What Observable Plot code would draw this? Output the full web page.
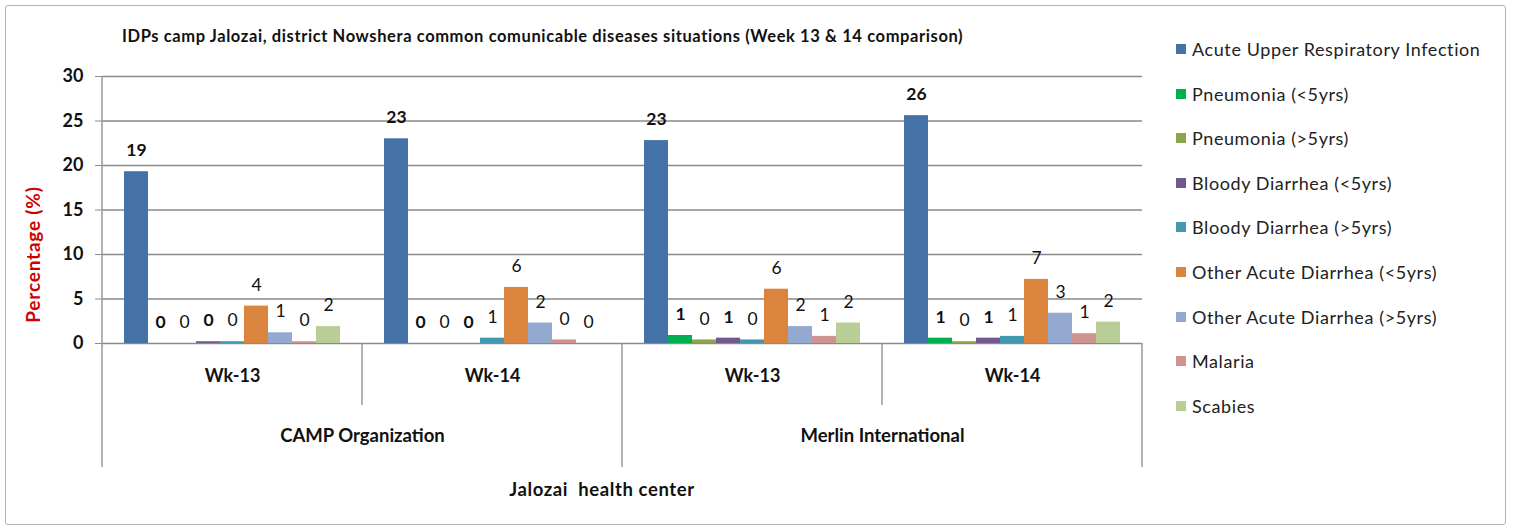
<!DOCTYPE html>
<html>
<head>
<meta charset="utf-8">
<script src="https://cdn.jsdelivr.net/npm/d3@7"></script>
<script src="https://cdn.jsdelivr.net/npm/@observablehq/plot@0.6"></script>
<style>
  html, body { margin: 0; padding: 0; background: #fff; }
  #wrap { position: relative; width: 1513px; height: 531px; overflow: hidden; font-family: Lato, "Open Sans", sans-serif; }
  #border { position: absolute; left: 5px; top: 5px; width: 1501px; height: 520px; border: 1.5px solid #b4b4b4; border-radius: 3px; box-sizing: border-box; }
  #chart { position: absolute; left: 0; top: 0; }
  #title { position: absolute; left: 122px; top: 26px; font-weight: bold; font-size: 16.5px; letter-spacing: 0.6px; color: #111; white-space: nowrap; }
  .item { position: absolute; left: 1176px; height: 22px; display: flex; align-items: center; white-space: nowrap; font-size: 18px; letter-spacing: 0.6px; color: #222; }
  .sw { width: 10px; height: 10px; margin-right: 6px; flex: none; }
</style>
</head>
<body>
<div id="wrap">
  <div id="border"></div>
  <div id="chart"></div>
  <div id="title"></div>
  <div id="legend"></div>
</div>
<script>
// ---- data ----
const chartTitle = "IDPs camp Jalozai, district Nowshera common comunicable diseases situations (Week 13 & 14 comparison)";
const yAxisTitle = "Percentage (%)";
const xAxisTitle = "Jalozai  health center";
const groups = ["CAMP|Wk-13", "CAMP|Wk-14", "Merlin|Wk-13", "Merlin|Wk-14"];
const weeks = ["Wk-13", "Wk-14", "Wk-13", "Wk-14"];
const organizations = ["CAMP Organization", "Merlin International"];
const orgGroups = [["CAMP|Wk-13", "CAMP|Wk-14"], ["Merlin|Wk-13", "Merlin|Wk-14"]];
const diseases = [
  "Acute Upper Respiratory  Infection",
  "Pneumonia (<5yrs)",
  "Pneumonia (>5yrs)",
  "Bloody Diarrhea (<5yrs)",
  "Bloody Diarrhea (>5yrs)",
  "Other Acute Diarrhea (<5yrs)",
  "Other Acute Diarrhea (>5yrs)",
  "Malaria",
  "Scabies"
];
const colors = ["#4572A7", "#00B050", "#89A54E", "#71588F", "#4198AF", "#DB843D", "#93A9CF", "#D19392", "#B9CD96"];
const boldLabelSeries = ["Acute Upper Respiratory  Infection", "Pneumonia (<5yrs)", "Bloody Diarrhea (<5yrs)"];
const campWk13   = [19.3, 0.0, 0.0, 0.2, 0.2, 4.2, 1.2, 0.2, 1.9];
const campWk14   = [23.0, 0.0, 0.0, 0.0, 0.6, 6.3, 2.3, 0.4, 0.0];
const merlinWk13 = [22.8, 0.9, 0.4, 0.6, 0.4, 6.1, 1.9, 0.8, 2.3];
const merlinWk14 = [25.6, 0.6, 0.2, 0.6, 0.8, 7.2, 3.4, 1.1, 2.4];
const yTicks = [0, 5, 10, 15, 20, 25, 30];

// ---- table ----
const seriesByGroup = [campWk13, campWk14, merlinWk13, merlinWk14];
const rows = [];
groups.forEach((g, gi) => seriesByGroup[gi].forEach((v, di) => rows.push({
  group: g, disease: diseases[di], value: v, label: String(Math.round(v)),
  bold: boldLabelSeries.includes(diseases[di])
})));
const groupRows = groups.map((g, i) => ({group: g, week: weeks[i]}));
const orgRows = organizations.map((o, i) => ({group: orgGroups[i][0], org: o}));

const font = "Lato, 'Open Sans', sans-serif";
const plot = Plot.plot({
  width: 1513, height: 531,
  marginLeft: 100, marginRight: 370, marginTop: 76, marginBottom: 188,
  style: {fontFamily: font, background: "transparent", overflow: "visible", color: "#111"},
  fx: {domain: groups, padding: 0, axis: null},
  x: {domain: diseases, paddingInner: 0, paddingOuter: 0.74, axis: null},
  y: {domain: [0, 30]},
  color: {domain: diseases, range: colors},
  marks: [
    Plot.ruleY(yTicks, {stroke: "#8a8a8a", strokeWidth: 1.6}),
    Plot.barY(rows, {fx: "group", x: "disease", y: "value", fill: "disease"}),
    Plot.text(rows.filter(d => d.bold), {fx: "group", x: "disease", y: "value", text: "label", dy: -21, fontSize: 17.5, fontWeight: "bold", fill: "#111"}),
    Plot.text(rows.filter(d => !d.bold), {fx: "group", x: "disease", y: "value", text: "label", dy: -21, fontSize: 17.5, fill: "#111"}),
    Plot.axisY({ticks: yTicks, tickSize: 7, tickPadding: 12, fontSize: 18, fontWeight: "bold", stroke: "#8a8a8a", fill: "#111", label: null}),
    Plot.text(groupRows, {fx: "group", text: "week", frameAnchor: "bottom", dy: 38, fontSize: 18, fontWeight: "bold", fill: "#111"}),
    Plot.text(orgRows, {fx: "group", text: "org", frameAnchor: "bottom-right", textAnchor: "middle", dy: 98, fontSize: 18.5, fontWeight: "bold", fill: "#111"})
  ]
});
document.getElementById("chart").appendChild(plot);

// hierarchical category axis decorations using Plot's scales
const fx = plot.scale("fx"), y = plot.scale("y");
const svg = d3.select(plot);
const g = svg.append("g").attr("stroke", "#999").attr("stroke-width", 1.5);
const y0 = y.apply(0), yTop = y.apply(30);
const left = fx.apply(groups[0]), right = fx.apply(groups[groups.length - 1]) + fx.bandwidth;
// y axis line
g.append("line").attr("x1", left).attr("x2", left).attr("y1", yTop).attr("y2", y0);
// long separators (org boundaries)
const longX = [left, fx.apply(orgGroups[1][0]), right];
longX.forEach(x => g.append("line").attr("x1", x).attr("x2", x).attr("y1", y0).attr("y2", y0 + 124));
// short separators (week boundaries)
orgGroups.forEach(pair => {
  const x = fx.apply(pair[1]);
  g.append("line").attr("x1", x).attr("x2", x).attr("y1", y0).attr("y2", y0 + 62);
});
// axis titles
svg.append("text").attr("x", (left + right) / 2 - 20).attr("y", y0 + 148).attr("text-anchor", "middle")
  .attr("dominant-baseline", "middle").attr("font-size", 18.5).attr("font-weight", "bold")
  .attr("letter-spacing", "0.6px").attr("fill", "#111").text(xAxisTitle);
svg.append("text").attr("transform", `translate(35,${(yTop + y0) / 2 + 45}) rotate(-90)`).attr("text-anchor", "middle")
  .attr("dominant-baseline", "middle").attr("font-size", 19).attr("font-weight", "bold")
  .attr("letter-spacing", "0.8px").attr("fill", "#d00000").text(yAxisTitle);

// title
document.getElementById("title").textContent = chartTitle;

// legend
const legend = document.getElementById("legend");
diseases.forEach((d, i) => {
  const item = document.createElement("div");
  item.className = "item";
  item.style.top = (38 + i * 44.6) + "px";
  const sw = document.createElement("span");
  sw.className = "sw";
  sw.style.background = colors[i];
  const t = document.createElement("span");
  t.textContent = d;
  item.appendChild(sw); item.appendChild(t);
  legend.appendChild(item);
});
</script>
</body>
</html>
